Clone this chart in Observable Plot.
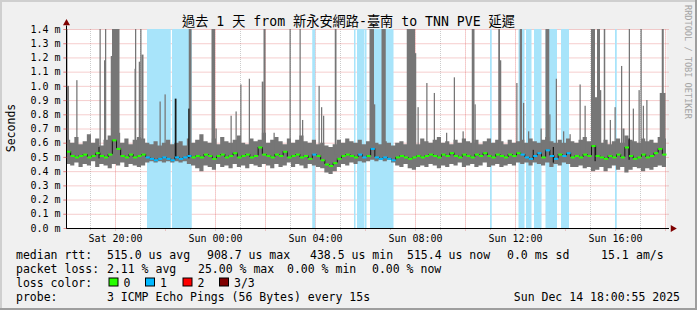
<!DOCTYPE html>
<html><head><meta charset="utf-8">
<script src="https://cdn.jsdelivr.net/npm/d3@7"></script>
<script src="https://cdn.jsdelivr.net/npm/@observablehq/plot@0.6"></script>
<style>
html,body{margin:0;padding:0;background:#f0f0f0;}
#chart{position:relative;width:697px;height:310px;overflow:hidden;}
svg{display:block;}
</style></head><body><div id="chart"></div>
<script>
// ---- time axis (hours since Sat 00:00) ----
const startHour = 18.04;
const endHour = 42.04;
const binHours = 1 / 6; // 10-minute bins

// ---- smoke band (ms): low / high per 10-minute bin ----
const smokeHigh = [
  0.62,0.60,0.64,0.59,0.61,0.66,0.60,0.63,0.58,0.62,0.65,0.61,0.67,0.60,0.63,0.59,0.62,0.64,
  0.63,0.60,0.59,0.61,0.58,0.60,0.62,0.59,0.60,0.61,0.58,0.63,0.60,
  0.62,0.66,0.61,0.60,0.63,0.59,0.64,0.61,0.60,0.62,0.65,0.60,0.59,0.63,0.61,0.62,0.67,0.60,0.62,0.64,0.61,0.59,0.63,0.60,0.62,0.65,0.61,0.60,0.62,0.59,
  0.60,0.58,0.57,0.59,0.62,0.60,0.63,0.61,0.60,0.62,0.59,0.61,
  0.62,0.60,0.59,0.61,0.60,0.58,
  0.60,0.61,0.59,0.62,0.60,0.59,0.63,0.61,0.60,0.62,0.64,0.60,0.61,0.59,0.62,0.60,0.63,0.61,0.60,0.62,0.59,0.61,0.63,0.60,0.62,0.61,0.59,0.62,0.60,0.61,
  0.62,0.60,0.63,0.61,0.60,0.62,0.64,0.61,0.60,0.62,0.60,0.63,0.61,
  0.60,0.62,0.64,0.61,0.66,0.63,0.60,0.62,0.59,0.61,0.63,0.60,0.65,0.62,0.61,0.60,0.63,0.61,0.62,0.60,0.64,0.63
];
const smokeLow = [
  0.45,0.44,0.46,0.43,0.45,0.44,0.47,0.43,0.45,0.44,0.42,0.45,0.44,0.46,0.43,0.45,0.44,0.43,
  0.44,0.46,0.47,0.46,0.47,0.46,0.47,0.46,0.47,0.46,0.47,0.45,0.44,
  0.42,0.40,0.44,0.43,0.41,0.45,0.43,0.44,0.42,0.45,0.43,0.44,0.42,0.45,0.44,0.43,0.45,0.44,0.42,0.45,0.43,0.44,0.46,0.43,0.45,0.44,0.42,0.45,0.44,0.43,
  0.42,0.39,0.38,0.40,0.43,0.45,0.44,0.46,0.45,0.47,0.46,0.47,
  0.48,0.47,0.48,0.47,0.48,0.46,
  0.44,0.43,0.45,0.42,0.41,0.43,0.44,0.43,0.45,0.44,0.42,0.44,0.43,0.45,0.44,0.46,0.43,0.44,0.45,0.43,0.44,0.46,0.43,0.44,0.45,0.43,0.44,0.45,0.44,0.46,
  0.45,0.46,0.44,0.46,0.45,0.44,0.46,0.43,0.45,0.44,0.46,0.45,0.43,
  0.43,0.44,0.42,0.43,0.40,0.41,0.43,0.40,0.42,0.44,0.41,0.43,0.39,0.41,0.43,0.42,0.40,0.42,0.41,0.43,0.44,0.43
];
// ---- median rtt (ms) per bin ----
const medianRtt = [
  0.54,0.51,0.50,0.51,0.52,0.50,0.51,0.53,0.51,0.50,0.52,0.62,0.56,0.51,0.50,0.52,0.50,0.51,
  0.52,0.50,0.49,0.48,0.49,0.50,0.49,0.48,0.50,0.49,0.50,0.51,0.50,
  0.51,0.50,0.52,0.51,0.49,0.51,0.52,0.50,0.51,0.53,0.50,0.51,0.52,0.50,0.51,0.57,0.52,0.51,0.50,0.52,0.51,0.54,0.50,0.51,0.52,0.50,0.51,0.49,0.52,0.51,
  0.48,0.45,0.44,0.46,0.49,0.51,0.52,0.51,0.50,0.52,0.50,0.51,
  0.56,0.50,0.49,0.50,0.49,0.48,
  0.50,0.51,0.50,0.49,0.50,0.51,0.50,0.51,0.52,0.51,0.50,0.52,0.51,0.53,0.51,0.50,0.52,0.51,0.50,0.52,0.51,0.53,0.51,0.50,0.52,0.51,0.50,0.52,0.51,0.53,
  0.52,0.50,0.49,0.51,0.53,0.50,0.55,0.51,0.49,0.52,0.51,0.53,0.50,
  0.51,0.50,0.52,0.51,0.58,0.51,0.50,0.49,0.51,0.50,0.52,0.50,0.57,0.51,0.49,0.50,0.52,0.50,0.51,0.53,0.56,0.52
];

// ---- packet-loss periods (1 of 3 lost), hours ----
const lossStart = [21.28,22.28,27.89,29.56,29.68,30.00,30.20,35.00,36.14,36.44,36.76,37.22,37.84,40.00];
const lossEnd   = [22.23,23.07,28.01,29.62,29.98,30.06,31.14,35.07,36.38,36.66,37.06,37.68,38.16,40.07];

// ---- tall smoke spikes (max ping), hours and ms (1.5 = off scale) ----
const spikeStart = [18.04,18.04,18.45,19.38,19.56,19.60,19.83,19.88,20.78,20.80,20.95,21.01,21.06,21.78,21.98,22.95,
  23.86,24.02,24.62,24.82,25.01,25.35,25.87,25.94,26.34,26.98,27.38,27.48,28.14,28.24,28.32,28.79,
  30.18,30.36,30.66,31.67,32.00,32.10,32.45,32.75,33.24,33.55,33.90,34.27,34.38,35.33,35.40,
  36.05,36.19,36.32,36.52,37.02,37.22,37.37,37.63,37.92,38.18,38.58,38.78,39.04,39.20,39.28,39.40,39.55,
  39.79,39.98,40.24,40.30,40.55,40.71,40.94,41.02,41.11,41.25,41.79,41.87];
const spikeEnd = [18.10,18.16,18.50,19.43,19.60,19.65,19.88,20.18,20.84,20.85,21.01,21.06,21.14,21.83,22.03,23.06,
  24.00,24.07,24.67,24.87,25.06,25.40,25.94,26.02,26.39,27.03,27.43,27.53,28.19,28.29,28.37,28.86,
  30.36,30.41,30.83,32.00,32.05,32.15,32.50,32.80,33.29,33.60,33.95,34.38,34.43,35.40,35.45,
  36.10,36.28,36.37,36.57,37.07,37.37,37.42,37.68,37.97,38.23,38.63,38.83,39.20,39.28,39.40,39.45,39.61,
  39.84,40.03,40.29,40.38,40.60,40.76,40.99,41.07,41.16,41.30,42.02,41.95];
const spikeTop = [1.5,1.0,1.04,1.5,1.18,1.5,1.21,1.5,1.12,1.5,1.17,1.5,1.22,0.89,0.94,1.5,
  1.5,0.70,0.79,0.82,1.01,1.05,1.03,1.5,0.67,1.5,1.5,0.76,1.0,0.85,0.79,1.5,
  1.5,0.87,1.5,1.5,1.23,0.85,1.02,0.95,0.67,1.06,0.68,1.5,0.87,1.5,1.18,
  1.02,1.5,0.88,0.68,0.70,1.5,0.80,1.05,0.68,0.66,1.01,0.86,1.5,0.92,1.5,0.97,1.5,
  0.76,0.85,1.14,0.70,1.5,0.84,0.97,1.5,0.86,0.90,0.95,1.5];

// ---- dark (inner smoke) spikes ----
const darkStart = [19.34,22.39,22.93,36.71,37.51,39.18,40.54];
const darkEnd   = [19.38,22.46,22.98,36.75,37.56,39.23,40.59];
const darkLow   = [0.49,0.49,0.49,0.48,0.46,0.47,0.48];
const darkTop   = [0.57,0.91,0.84,0.55,0.57,0.58,0.63];

// ---- axes ----
const yTicks = [0,0.1,0.2,0.3,0.4,0.5,0.6,0.7,0.8,0.9,1.0,1.1,1.2,1.3,1.4];
const xTickHours = [20,24,28,32,36,40];
const xTickLabels = ["Sat 20:00","Sun 00:00","Sun 04:00","Sun 08:00","Sun 12:00","Sun 16:00"];
const minorGridHours = [19,21,23,25,27,29,31,33,35,37,39,41];
const majorGridHours = [20,22,24,26,28,30,32,34,36,38,40,42];

// ---- legend ----
const lossColors = ["#26ff00","#00b8ff","#ff0000","#7f0000"];
const lossLabels = ["0","1","2","3/3"];
const titleText = "過去 1 天 from 新永安網路-臺南 to TNN PVE 延遲";

// ---- derived tables ----
const inLoss = t => lossStart.some((s, i) => t >= s && t <= lossEnd[i]);
const bins = medianRtt.map((m, i) => {
  const t0 = startHour + i * binHours, t1 = startHour + (i + 1) * binHours;
  return {t0, t1, med: m, low: smokeLow[i], high: smokeHigh[i], lost: inLoss((t0 + t1) / 2)};
});
const areaPts = bins.map(b => ({t: b.t0, low: b.low, high: b.high}))
  .concat([{t: bins[bins.length - 1].t1, low: bins[bins.length - 1].low, high: bins[bins.length - 1].high}]);
const connectors = bins.slice(1).map((b, i) => ({t: b.t0, a: bins[i].med, b: b.med}));
const losses = lossStart.map((s, i) => ({s, e: lossEnd[i]}));
const spikes = spikeStart.map((s, i) => ({s, e: spikeEnd[i], top: spikeTop[i]}));
const darks = darkStart.map((s, i) => ({s, e: darkEnd[i], lo: darkLow[i], top: darkTop[i]}));

const mono = "'DejaVu Sans Mono', 'Noto Sans CJK TC', monospace";
const gray = "#767676";

const svg = Plot.plot({
  width: 697, height: 310,
  marginLeft: 66, marginRight: 31, marginTop: 29, marginBottom: 82,
  x: {domain: [startHour, endHour], axis: null},
  y: {domain: [0, 1.4], axis: null},
  style: {background: "transparent", fontFamily: mono, fontSize: "10px", color: "black", overflow: "visible"},
  marks: [
    Plot.frame({fill: "white", stroke: "none"}),
    Plot.ruleX(minorGridHours, {y1: -0.014, y2: 1.4, stroke: "#8f8f8f", strokeOpacity: 0.46, strokeDasharray: "1,1"}),
    Plot.ruleX(majorGridHours, {y1: -0.018, y2: 1.4, stroke: "#de5050", strokeOpacity: 0.56, strokeDasharray: "1,1"}),
    Plot.ruleY(yTicks.slice(1), {x1: startHour - 0.1, x2: endHour + 0.1, stroke: "#de5050", strokeOpacity: 0.56, strokeDasharray: "1,1"}),
    Plot.rect(losses, {x1: "s", x2: "e", y1: 0, y2: 1.4, fill: "#a8e4fa"}),
    Plot.area(areaPts, {x1: "t", y1: "low", y2: "high", curve: "step-after", fill: gray}),
    Plot.rect(spikes, {x1: "s", x2: "e", y1: 0.52, y2: "top", fill: gray, clip: true}),
    Plot.rect(darks, {x1: "s", x2: "e", y1: "lo", y2: "top", fill: "#161616"}),
    Plot.ruleX(connectors, {x: "t", y1: "a", y2: "b", stroke: "#161616", strokeWidth: 1}),
    Plot.link(bins.filter(b => !b.lost), {x1: "t0", x2: "t1", y1: "med", y2: "med", stroke: lossColors[0], strokeWidth: 2}),
    Plot.link(bins.filter(b => b.lost), {x1: "t0", x2: "t1", y1: "med", y2: "med", stroke: lossColors[1], strokeWidth: 2}),
    // axes
    Plot.ruleY([0], {x1: startHour, x2: endHour + 0.12, stroke: "black"}),
    Plot.ruleX([startHour], {y1: 0, y2: 1.425, stroke: "black"}),
    Plot.dot([{t: endHour + 0.25, v: 0}], {x: "t", y: "v", symbol: "triangle", rotate: 90, r: 2.6, fill: "#7f0000", stroke: "none"}),
    Plot.dot([{t: startHour, v: 1.445}], {x: "t", y: "v", symbol: "triangle", r: 2.6, fill: "#7f0000", stroke: "none"}),
    Plot.link(yTicks, {x1: startHour - 0.12, x2: startHour, y1: d => d, y2: d => d, stroke: "#de5050", strokeOpacity: 0.56}),
    Plot.text(yTicks, {x: startHour, y: d => d, text: d => d.toFixed(1) + " m", textAnchor: "end", dx: -6, fontSize: 10}),
    Plot.text(xTickHours, {x: d => d, y: 0, text: (d, i) => xTickLabels[i], dy: 10, lineAnchor: "middle", fontSize: 10})
  ]
});

const s = d3.select(svg);
// 3D border
s.insert("rect", ":first-child").attr("x", 0).attr("y", 0).attr("width", 697).attr("height", 310).attr("fill", "#f0f0f0");
s.append("rect").attr("x", 0).attr("y", 0).attr("width", 697).attr("height", 2).attr("fill", "#cfcfcf");
s.append("rect").attr("x", 0).attr("y", 0).attr("width", 2).attr("height", 310).attr("fill", "#cfcfcf");
s.append("rect").attr("x", 0).attr("y", 308).attr("width", 697).attr("height", 2).attr("fill", "#9e9e9e");
s.append("rect").attr("x", 695).attr("y", 0).attr("width", 2).attr("height", 310).attr("fill", "#9e9e9e");

const txt = (x, y, str, size, opts = {}) => {
  const t = s.append("text").attr("x", x).attr("y", y).text(str)
    .attr("font-family", mono).attr("font-size", size).attr("fill", opts.fill || "black")
    .attr("text-anchor", opts.anchor || "start").style("white-space", "pre");
  if (opts.transform) t.attr("transform", opts.transform).attr("x", 0).attr("y", 0);
  return t;
};
// title
txt(348.5, 25.5, titleText, 13.2, {anchor: "middle"});
// y label
txt(0, 0, "Seconds", 11.5, {anchor: "middle", transform: "translate(14.5,128) rotate(-90)"});
// watermark
txt(0, 0, "RRDTOOL / TOBI OETIKER", 8.6, {fill: "#a4a4a4", transform: "translate(685,5) rotate(90)"});

// legend lines
const L = 11.5;
txt(16, 258.5, "median rtt:", L);
txt(107, 258.5, "515.0 us avg", L);
txt(207, 258.5, "908.7 us max", L);
txt(310, 258.5, "438.5 us min", L);
txt(407, 258.5, "515.4 us now", L);
txt(507, 258.5, "0.0 ms sd", L);
txt(601, 258.5, "15.1", L);
txt(636, 258.5, "am/s", L);

txt(16, 272.5, "packet loss:", L);
txt(107, 272.5, "2.11 % avg", L);
txt(198, 272.5, "25.00 % max", L);
txt(287, 272.5, "0.00 % min", L);
txt(372, 272.5, "0.00 % now", L);

txt(16, 286.5, "loss color:", L);
const boxX = [109, 145.5, 183, 219.5];
lossColors.forEach((c, i) => {
  s.append("rect").attr("x", boxX[i]).attr("y", 278).attr("width", 9).attr("height", 8)
    .attr("fill", c).attr("stroke", "black").attr("stroke-width", 1);
  txt(boxX[i] + 14.5, 286.5, lossLabels[i], L);
});

txt(16, 300.5, "probe:", L);
txt(107, 300.5, "3 ICMP Echo Pings (56 Bytes) every 15s", L);
txt(680, 300.5, "Sun Dec 14 18:00:55 2025", L, {anchor: "end"});

document.getElementById("chart").appendChild(svg);
</script></body></html>
